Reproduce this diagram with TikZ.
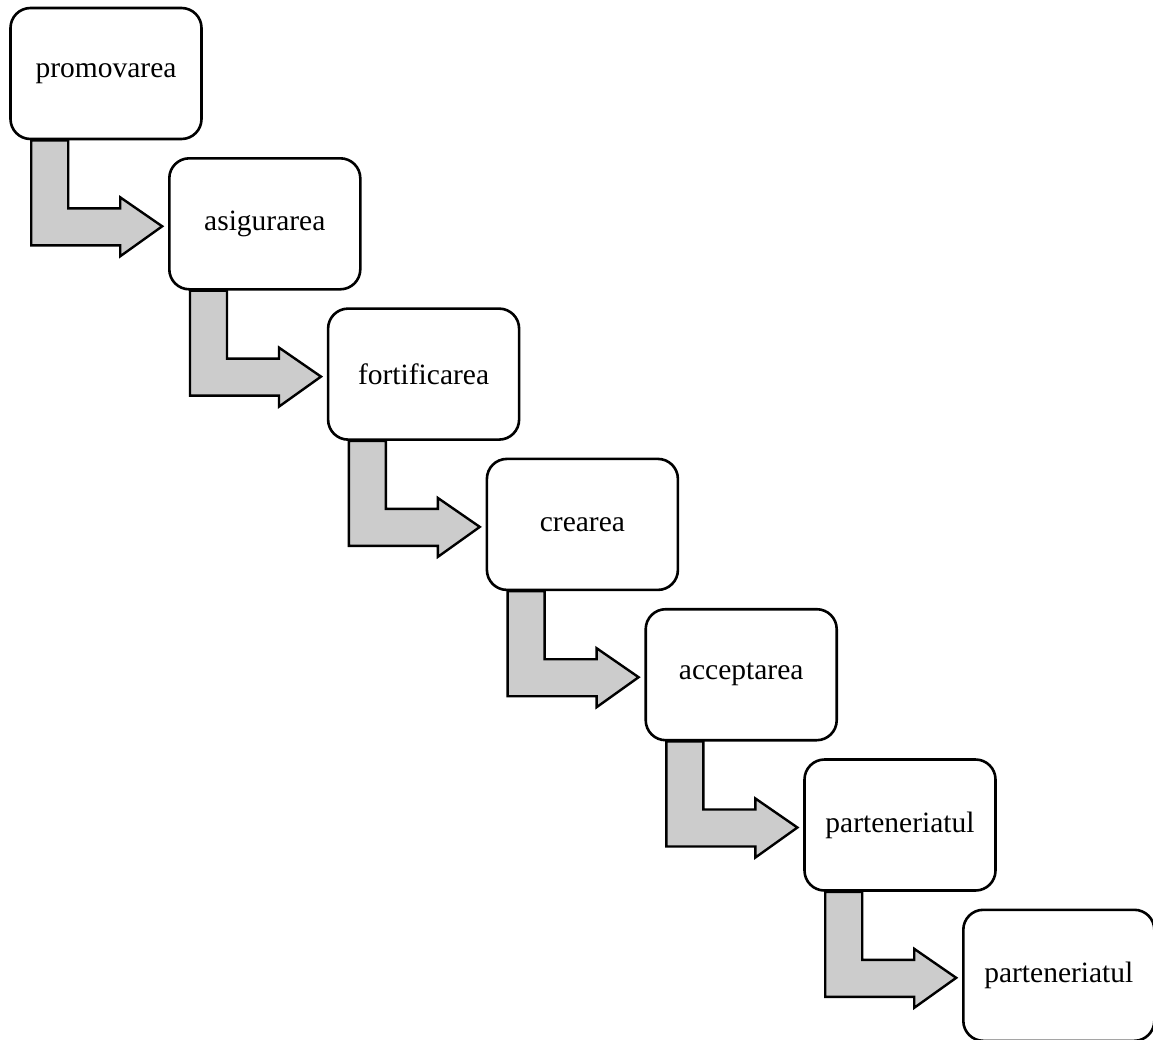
\documentclass[tikz,border=0pt]{standalone}
\usepackage{fontspec}
\setmainfont{Liberation Serif}
\usetikzlibrary{calc}
\tikzset{%
  stepbox/.style  = {shape=rectangle, rounded corners=20pt,%
                     draw, line width=2.6pt, fill=white, align=center,%
                     minimum width=191pt, minimum height=131pt, inner sep=0pt,%
                     font=\fontsize{29.5}{34}\selectfont},%
  bentarrow/.style = {draw, line width=2.4pt, fill=gray!40, line join=miter}%
}

\begin{document}
\begin{tikzpicture}[x=1pt,y=-1pt]%
	\clip (0,0) rectangle (1153,1039);%
	\useasboundingbox (0,0) rectangle (1153,1039);%
	\foreach \word [count=\i from 0] in {promovarea,asigurarea,fortificarea,%
		crearea,acceptarea,parteneriatul,parteneriatul}%
		\node[stepbox] (b\i) at (106+158.8*\i,73.5+150.3*\i) {\word};%
	\foreach \i in {0,...,5}%
		\draw[bentarrow] ($(b\i.south west)+(22,0)$) -- ++(37,0) -- ++(0,68)%
			-- ++(52,0) -- ++(0,-11) -- ++(42,29) -- ++(-42,30)%
			-- ++(0,-11) -- ++(-89,0) -- cycle;%
\end{tikzpicture}
\end{document}
